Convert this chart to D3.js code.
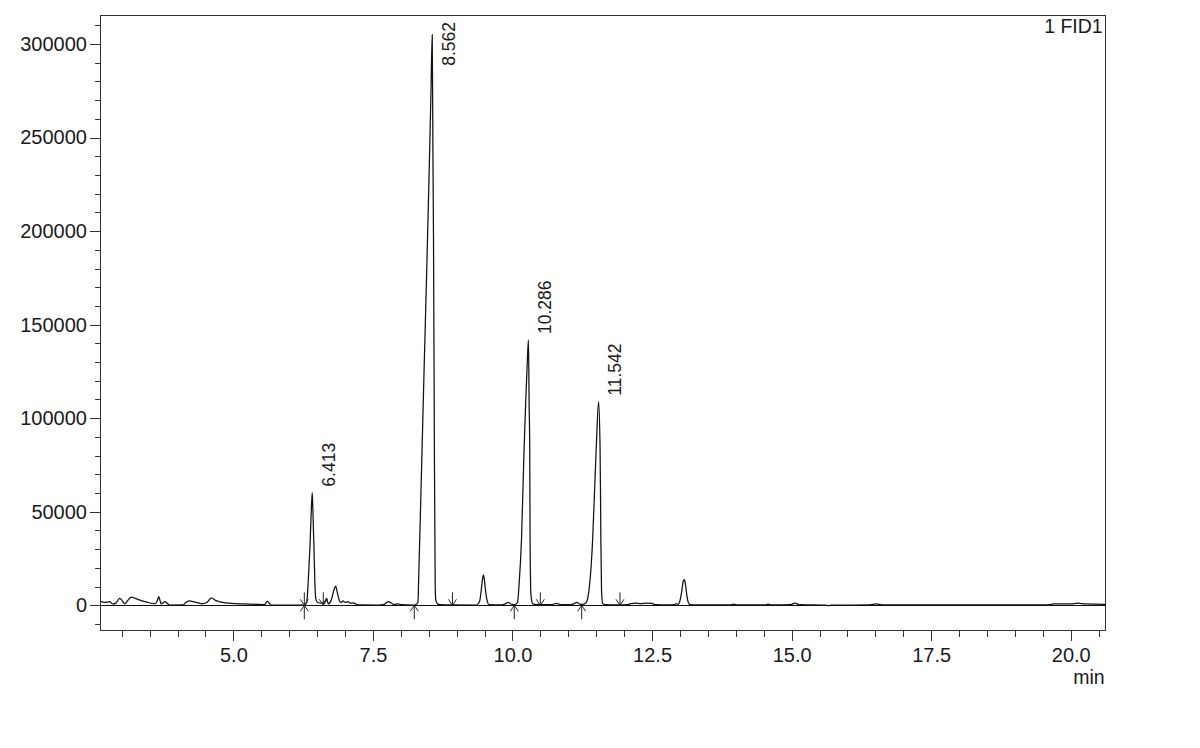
<!DOCTYPE html>
<html>
<head>
<meta charset="utf-8">
<script src="https://cdn.jsdelivr.net/npm/d3@7"></script>
<style>
  html, body { margin: 0; padding: 0; background: #fff; }
  svg { display: block; }
  text { font-family: "Liberation Sans", Arial, sans-serif; fill: #1a1a1a; }
</style>
</head>
<body>
<svg id="chart" width="1200" height="748"></svg>
<script>
// ---------- data ----------
const timeDomain = [2.611, 20.626];        // min
const signalDomain = [-13575, 315500];     // counts

const xMajorTicks = [5.0, 7.5, 10.0, 12.5, 15.0, 17.5, 20.0];
const xMinorTicks = d3.range(3.0, 20.51, 0.5);
const yMajorTicks = [0, 50000, 100000, 150000, 200000, 250000, 300000];
const yMinorTicks = d3.range(-10000, 310001, 10000);

const detectorLabel = "1 FID1";
const xUnitLabel = "min";

const peakTimes   = [6.413, 8.562, 10.286, 11.542];
const peakHeights = [60200, 305000, 141800, 108800];

const baselineStarts = [6.271, 8.241, 10.032, 11.239];
const baselineEnds   = [6.271, 6.611, 8.925, 10.498, 11.925];

// chromatogram trace: [retention time (min), signal]
const chromatogram = [
  [2.611, 2300], [2.70, 1500], [2.785, 1900], [2.84, 700], [2.90, 1300],
  [2.964, 3700], [3.01, 2400], [3.054, 800], [3.11, 2600], [3.172, 4400],
  [3.25, 3600], [3.35, 2500], [3.45, 1700], [3.525, 1100], [3.60, 900],
  [3.635, 2300], [3.663, 4600], [3.69, 2200], [3.71, 700], [3.74, 1300],
  [3.771, 1900], [3.82, 900], [3.86, 150], [4.10, 200], [4.139, 1300],
  [4.218, 2300], [4.30, 1800], [4.367, 1300], [4.45, 900], [4.53, 1600],
  [4.605, 4000], [4.68, 2600], [4.784, 1700], [4.96, 1000], [5.20, 700],
  [5.40, 500], [5.56, 400], [5.608, 2200], [5.65, 900], [5.68, 150],
  [5.80, 50], [6.22, 50], [6.29, 600], [6.313, 1500], [6.345, 15000],
  [6.372, 31300], [6.395, 50000], [6.413, 60200], [6.425, 50000], [6.443, 31300],
  [6.46, 12000], [6.479, 3000], [6.51, 1500], [6.58, 1200], [6.64, 2000],
  [6.67, 3700], [6.70, 800], [6.75, 2500], [6.80, 8000], [6.833, 10300],
  [6.86, 7000], [6.898, 2600], [6.93, 1500], [6.964, 2300], [7.00, 1600],
  [7.054, 1900], [7.10, 1100], [7.143, 1300], [7.233, 200], [7.60, 100],
  [7.70, 500], [7.775, 1900], [7.83, 1200], [7.88, 400], [7.95, 800],
  [8.01, 300], [8.20, 100], [8.27, 400], [8.306, 1500], [8.32, 15000],
  [8.36, 60000], [8.42, 130000], [8.467, 183000], [8.51, 235000], [8.54, 275000],
  [8.562, 305000], [8.575, 240000], [8.585, 196700], [8.60, 90000], [8.615, 12000],
  [8.625, 3000], [8.65, 1000], [8.70, 400], [8.90, 200], [9.35, 150],
  [9.41, 2000], [9.44, 8000], [9.465, 14500], [9.48, 16200], [9.495, 14000],
  [9.52, 7000], [9.55, 2000], [9.58, 400], [9.80, 200], [9.88, 900],
  [9.925, 1600], [9.97, 700], [10.04, 400], [10.089, 1500], [10.12, 12000],
  [10.161, 34900], [10.207, 83000], [10.238, 109700], [10.265, 130000], [10.286, 141800],
  [10.297, 109700], [10.309, 83000], [10.315, 34900], [10.33, 6000], [10.358, 1000],
  [10.40, 500], [10.55, 300], [10.70, 400], [10.79, 1000], [10.86, 400],
  [11.00, 300], [11.10, 800], [11.15, 1600], [11.20, 800], [11.26, 500],
  [11.315, 1200], [11.37, 8000], [11.435, 34900], [11.462, 55000], [11.499, 83000],
  [11.542, 108800], [11.569, 83000], [11.578, 55000], [11.583, 34900], [11.595, 8000],
  [11.614, 1000], [11.65, 400], [11.90, 200], [12.05, 300], [12.12, 900],
  [12.20, 1200], [12.30, 900], [12.40, 1200], [12.50, 1000], [12.56, 300],
  [12.80, 200], [12.90, 300], [12.93, 900], [12.96, 500], [12.99, 1500],
  [13.03, 7000], [13.06, 13000], [13.077, 13700], [13.095, 12000], [13.12, 6000],
  [13.15, 1500], [13.18, 400], [13.30, 200], [13.90, 200], [13.96, 600],
  [14.02, 200], [14.52, 200], [14.58, 600], [14.64, 200], [14.98, 300],
  [15.06, 1200], [15.14, 300], [15.60, 100], [15.66, -200], [15.72, 100],
  [16.40, 200], [16.51, 700], [16.62, 200], [19.60, 200], [19.70, 700],
  [20.00, 700], [20.13, 1200], [20.25, 700], [20.626, 500]
];

// ---------- layout ----------
const plot = { left: 100, top: 15, right: 1105.7, bottom: 630.7 };
const svg = d3.select("#chart");
svg.append("rect").attr("width", 1200).attr("height", 748).attr("fill", "#fff");

const x = d3.scaleLinear().domain(timeDomain).range([plot.left, plot.right]);
const y = d3.scaleLinear().domain(signalDomain).range([plot.bottom, plot.top]);

const axisColor = "#333";
const fontAxis = "20px";

// y axis minor
const gyMinor = svg.append("g").attr("transform", `translate(${plot.left},0)`)
  .call(d3.axisLeft(y).tickValues(yMinorTicks).tickSize(5).tickFormat(""));
// y axis major
const gy = svg.append("g").attr("transform", `translate(${plot.left},0)`)
  .call(d3.axisLeft(y).tickValues(yMajorTicks).tickSize(10).tickPadding(3).tickFormat(d3.format("d")));

// x axis minor
const gxMinor = svg.append("g").attr("transform", `translate(0,${plot.bottom})`)
  .call(d3.axisBottom(x).tickValues(xMinorTicks).tickSize(6).tickFormat(""));
// x axis major
const gx = svg.append("g").attr("transform", `translate(0,${plot.bottom})`)
  .call(d3.axisBottom(x).tickValues(xMajorTicks).tickSize(10).tickPadding(7).tickFormat(d3.format(".1f")));

[gyMinor, gy, gxMinor, gx].forEach(g => {
  g.select(".domain").remove();
  g.selectAll(".tick line").attr("stroke", axisColor).attr("shape-rendering", "crispEdges");
  g.selectAll(".tick text").style("font-family", '"Liberation Sans", Arial, sans-serif')
    .style("font-size", fontAxis).attr("fill", "#1a1a1a");
});

// frame
svg.append("rect")
  .attr("x", plot.left).attr("y", plot.top)
  .attr("width", plot.right - plot.left).attr("height", plot.bottom - plot.top)
  .attr("fill", "none").attr("stroke", axisColor).attr("stroke-width", 1)
  .attr("shape-rendering", "crispEdges");

// zero line
svg.append("line")
  .attr("x1", plot.left).attr("x2", plot.right)
  .attr("y1", y(0)).attr("y2", y(0))
  .attr("stroke", "#111").attr("stroke-width", 1)
  .attr("shape-rendering", "crispEdges");

// trace
const line = d3.line()
  .x(d => x(d[0])).y(d => y(d[1]))
  .curve(d3.curveMonotoneX);
svg.append("path")
  .datum(chromatogram)
  .attr("d", line)
  .attr("fill", "none")
  .attr("stroke", "#111")
  .attr("stroke-width", 1.25)
  .attr("stroke-linejoin", "round");

// baseline markers
const y0 = y(0);
const markG = svg.append("g").attr("stroke", "#222").attr("stroke-width", 1).attr("fill", "none");
baselineStarts.forEach(t => {
  const cx = x(t);
  markG.append("path").attr("d", `M${cx},${y0 + 14}L${cx},${y0} M${cx - 4},${y0 + 6}L${cx},${y0}L${cx + 4},${y0 + 6}`);
});
baselineEnds.forEach(t => {
  const cx = x(t);
  markG.append("path").attr("d", `M${cx},${y0 - 13}L${cx},${y0} M${cx - 4},${y0 - 6}L${cx},${y0}L${cx + 4},${y0 - 6}`);
});

// peak labels
peakTimes.forEach((t, i) => {
  const txt = svg.append("text")
    .style("font-size", "17.5px")
    .attr("text-anchor", "start")
    .text(d3.format(".3f")(t));
  const len = txt.node().getComputedTextLength();
  const bottom = Math.max(y(peakHeights[i]) - 6, plot.top + 7 + len);
  txt.attr("transform", `translate(${x(t) + 22.5},${bottom}) rotate(-90)`);
});

// detector label
svg.append("text")
  .attr("x", plot.right - 3).attr("y", 33)
  .attr("text-anchor", "end")
  .style("font-size", "19.5px")
  .text(detectorLabel);

// x unit label
svg.append("text")
  .attr("x", plot.right - 1).attr("y", 684)
  .attr("text-anchor", "end")
  .style("font-size", "19.5px")
  .text(xUnitLabel);
</script>
</body>
</html>
